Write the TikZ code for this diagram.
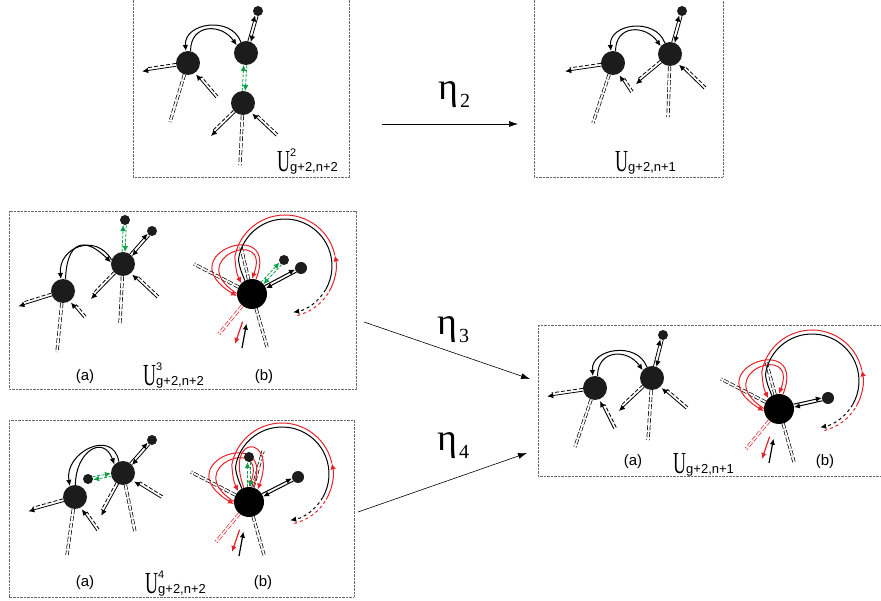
\documentclass[tikz,border=0pt]{standalone}
\usepackage{graphicx}
\usepackage{fontspec}
\setmainfont{Liberation Serif}
\newfontfamily\lblsans{Liberation Sans}
\usetikzlibrary{arrows.meta,calc}

\definecolor{vfill}{HTML}{1C1C1C}
\definecolor{loopred}{HTML}{E42229}
\definecolor{swapgreen}{HTML}{0E9F4A}
\definecolor{framegray}{HTML}{6A6A6A}

\tikzset{
  vtx/.style={circle, fill=vfill, inner sep=0pt, minimum size=24pt},
  svtx/.style={circle, fill=vfill, inner sep=0pt, minimum size=10pt},
  mvtx/.style={circle, fill=vfill, inner sep=0pt, minimum size=12pt},
  bigvtx/.style={circle, fill=black, inner sep=0pt, minimum size=30pt},
  boxframe/.style={draw=framegray, line width=0.9pt, dash pattern=on 0.9pt off 0.5pt},
  arrtip/.style={-{Latex[length=6pt,width=5.5pt]}},
  legtip/.style={line width=0.8pt, arrtip},
  legdash/.style={line width=0.8pt, dash pattern=on 4pt off 2pt},
  greendash/.style={swapgreen, dash pattern=on 3pt off 1.5pt},
  pleg/.style={double, double distance=1.8pt, line width=0.7pt, dash pattern=on 5pt off 2pt},
  arcline/.style={line width=1pt},
  mapArrow/.style={line width=0.6pt, -{Latex[length=9pt,width=6pt]}},
  lbl/.style={inner sep=0pt, font=\lblsans\fontsize{15}{15}\selectfont},
}

% half-edge leaving vertex #2 (radius #3) towards free end #4
\newcommand\outleg[4][]{%
  \draw[legtip,#1,shorten <=#3] ($(#2)!1.4pt!90:(#4)$) -- ($(#4)!1.4pt!-90:(#2)$);
  \draw[legdash,#1,shorten <=#3,shorten >=5pt] ($(#2)!1.4pt!-90:(#4)$) -- ($(#4)!1.4pt!90:(#2)$);}
% half-edge from free end #4 pointing into vertex #2 (gap #3)
\newcommand\inleg[4][]{%
  \draw[legtip,#1,shorten >=#3] ($(#4)!1.4pt!90:(#2)$) -- ($(#2)!1.4pt!-90:(#4)$);
  \draw[legdash,#1,shorten >=#3+5pt] ($(#4)!1.4pt!-90:(#2)$) -- ($(#2)!1.4pt!90:(#4)$);}
% two opposite arrows between vertices #2 (radius #3) and #4 (radius #5)
\newcommand\dpair[5][]{%
  \draw[legtip,#1,shorten <=#3,shorten >=#5] ($(#2)!1.5pt!90:(#4)$) -- ($(#4)!1.5pt!-90:(#2)$);
  \draw[legtip,#1,shorten <=#5,shorten >=#3] ($(#4)!1.5pt!90:(#2)$) -- ($(#2)!1.5pt!-90:(#4)$);}
% double arc over the top between two vertices
\newcommand\topArc[2]{%
  \draw[arcline,arrtip] (#2.115) to[out=110,in=95,looseness=1.3] (#1.100);
  \draw[arcline,arrtip] (#1.78) to[out=90,in=125,looseness=1.5] (#2.140);}
% labels
\newcommand\Ulab[2]{\scalebox{1}[1.7]{\fontsize{18}{18}\selectfont U}\rlap{\raisebox{15pt}{\lblsans\fontsize{11}{11}\selectfont #1}}\raisebox{0pt}{\lblsans\fontsize{13}{13}\selectfont #2}}
\newcommand\etalabel[1]{{\fontsize{38}{38}\selectfont η}\hspace{2pt}\raisebox{-8pt}{\fontsize{20}{20}\selectfont #1}}

% big vertex with self-loops and a long returning edge
\newcommand\loopvertex[5]{%
\begin{scope}[shift={(#2,-#3)}]
  \node[bigvtx] (#1V) at (0,0) {};
  \coordinate (#1ul) at (-58,30);
  \coordinate (#1up) at (#4,#5);
  \coordinate (#1dr) at (15,-53);
  \coordinate (#1dl) at (-33,-40);
  \coordinate (#1rd) at (-17,-50);
  \coordinate (#1bu) at (-10,-54);
  \coordinate (#1cc) at (33,28);
  \draw[pleg] (#1V) -- (#1ul);
  \draw[pleg] (#1V) -- (#1up);
  \draw[pleg] (#1V) -- (#1dr);
  \draw[pleg, draw=loopred] (#1V) -- (#1dl);
  \draw[loopred, line width=1.2pt, arrtip, shorten <=14pt] (#1V) -- (#1rd);
  \draw[line width=1.2pt, arrtip, shorten >=15pt] (#1bu) -- (#1V);
  \draw[loopred, arcline, arrtip] (#1V.75) .. controls +(26,65) and +(-70,42) .. (#1V.188);
  \draw[loopred, arcline, arrtip] (#1V.178) .. controls +(-55,35) and +(20,53) .. (#1V.90);
  \draw[arcline] (#1V.118) .. controls +(-4,10) and +(1,-8) .. ($(#1cc)+(172:47)$)
     arc[start angle=172, end angle=-30, radius=47] coordinate (#1bk);
  \draw[arcline, dashed, arrtip] (#1bk) arc[start angle=-30, end angle=-80, radius=47];
  \draw[loopred, arcline, dashed] ($(#1cc)+(-76:51)$) arc[start angle=-76, end angle=-30, radius=51] coordinate (#1ra);
  \draw[loopred, arcline, arrtip] (#1ra) arc[start angle=-30, end angle=12, radius=51] coordinate (#1rb);
  \draw[loopred, arcline, arrtip] (#1rb) arc[start angle=12, end angle=170, radius=51]
     .. controls +(1,-10) and +(-5,10) .. (#1V.135);
\end{scope}}

\begin{document}
\begin{tikzpicture}[x=1pt,y=1pt]
\useasboundingbox (0,0) rectangle (881,-601);

% ---------- frames ----------
\draw[boxframe] (133,6) rectangle (349,-177);
\draw[boxframe] (534,6) rectangle (723,-177);
\draw[boxframe] (9,-211) rectangle (356,-389);
\draw[boxframe] (9,-420) rectangle (354,-597);
\draw[boxframe] (538,-325) rectangle (890,-476);

% ---------- U^2_{g+2,n+2} ----------
\node[vtx] (p1A) at (188,-63) {};
\node[vtx] (p1B) at (246,-53) {};
\node[vtx] (p1C) at (243,-103) {};
\node[svtx] (p1D) at (258,-11) {};
\coordinate (p1a1) at (142,-70);
\coordinate (p1a2) at (170,-122);
\coordinate (p1a3) at (217,-97);
\coordinate (p1c1) at (210,-135);
\coordinate (p1c2) at (240,-165);
\coordinate (p1c3) at (277,-135);
\topArc{p1A}{p1B}
\dpair{p1B}{12pt}{p1D}{5pt}
\dpair[greendash]{p1B}{12pt}{p1C}{12pt}
\outleg{p1A}{12pt}{p1a1}
\draw[pleg] (p1A) -- (p1a2);
\inleg{p1A}{14pt}{p1a3}
\outleg{p1C}{12pt}{p1c1}
\draw[pleg] (p1C) -- (p1c2);
\inleg{p1C}{14pt}{p1c3}
\node[anchor=base west, inner sep=0pt] (lab1) at (277,-172) {\Ulab{2}{g+2,n+2}};

% ---------- U_{g+2,n+1} (top) ----------
\node[vtx] (p2A) at (613,-63) {};
\node[vtx] (p2B) at (670,-54) {};
\node[svtx] (p2D) at (682,-11) {};
\coordinate (p2a1) at (565,-70);
\coordinate (p2a2) at (593,-123);
\coordinate (p2a3) at (632,-92);
\coordinate (p2b1) at (635,-83);
\coordinate (p2b2) at (668,-117);
\coordinate (p2b3) at (705,-88);
\topArc{p2A}{p2B}
\dpair{p2B}{12pt}{p2D}{5pt}
\outleg{p2A}{12pt}{p2a1}
\draw[pleg] (p2A) -- (p2a2);
\inleg{p2A}{14pt}{p2a3}
\outleg{p2B}{12pt}{p2b1}
\draw[pleg] (p2B) -- (p2b2);
\inleg{p2B}{14pt}{p2b3}
\node[anchor=base west, inner sep=0pt] (lab2) at (615,-172) {\Ulab{}{g+2,n+1}};

% ---------- U^3_{g+2,n+2} (a) ----------
\node[vtx] (p3A) at (63,-291) {};
\node[vtx] (p3B) at (123,-264) {};
\node[svtx] (p3D) at (125,-220) {};
\node[svtx] (p3E) at (152,-231) {};
\coordinate (p3a1) at (18,-305);
\coordinate (p3a2) at (57,-352);
\coordinate (p3a3) at (85,-317);
\coordinate (p3b1) at (90,-298);
\coordinate (p3b2) at (120,-323);
\coordinate (p3b3) at (158,-297);
\draw[arcline,arrtip] (p3B.160) to[out=120,in=95,looseness=1.5] (p3A.100);
\draw[arcline,arrtip] (p3A.78) to[out=88,in=135,looseness=2] (p3B.172);
\dpair[greendash]{p3B}{12pt}{p3D}{5pt}
\dpair{p3B}{12pt}{p3E}{5pt}
\outleg{p3A}{12pt}{p3a1}
\draw[pleg] (p3A) -- (p3a2);
\inleg{p3A}{14pt}{p3a3}
\outleg{p3B}{12pt}{p3b1}
\draw[pleg] (p3B) -- (p3b2);
\inleg{p3B}{14pt}{p3b3}
\node[lbl] (lab3a) at (85,-377) {(a)};
\node[anchor=base west, inner sep=0pt] (lab3) at (143,-386) {\Ulab{3}{g+2,n+2}};

% ---------- U^3_{g+2,n+2} (b) ----------
\loopvertex{q3}{252}{294}{-11}{47}
\node[svtx] (q3D) at (284,-260) {};
\node[mvtx] (q3E) at (301,-268) {};
\dpair[greendash]{q3V}{15pt}{q3D}{5pt}
\dpair[arcline]{q3V}{15pt}{q3E}{6pt}
\node[lbl] (lab3b) at (264,-377) {(b)};

% ---------- U^4_{g+2,n+2} (a) ----------
\node[vtx] (p4A) at (75,-497) {};
\node[vtx] (p4B) at (123,-473) {};
\node[svtx] (p4D) at (88,-479) {};
\node[svtx] (p4E) at (152,-440) {};
\coordinate (p4a1) at (28,-510);
\coordinate (p4a2) at (67,-555);
\coordinate (p4a3) at (98,-530);
\coordinate (p4b1) at (100,-515);
\coordinate (p4b2) at (135,-532);
\coordinate (p4b3) at (162,-497);
\draw[arcline,arrtip] (p4B.110) to[out=100,in=100,looseness=1.6] (p4A.115);
\draw[arcline,arrtip] (p4A.88) to[out=90,in=110,looseness=1.9] (p4B.135);
\dpair[greendash]{p4B}{12pt}{p4D}{5pt}
\dpair{p4B}{12pt}{p4E}{5pt}
\outleg{p4A}{12pt}{p4a1}
\draw[pleg] (p4A) -- (p4a2);
\inleg{p4A}{14pt}{p4a3}
\outleg{p4B}{12pt}{p4b1}
\draw[pleg] (p4B) -- (p4b2);
\inleg{p4B}{14pt}{p4b3}
\node[lbl] (lab4a) at (85,-583) {(a)};
\node[anchor=base west, inner sep=0pt] (lab4) at (145,-593) {\Ulab{4}{g+2,n+2}};

% ---------- U^4_{g+2,n+2} (b) ----------
\loopvertex{q4}{249}{502}{14}{51}
\node[svtx] (q4D) at (249,-457) {};
\node[mvtx] (q4E) at (298,-477) {};
\draw[loopred, arcline, arrtip] (q4V.110) .. controls +(-20,55) and +(20,55) .. (q4V.55);
\dpair[greendash]{q4V}{15pt}{q4D}{5pt}
\dpair[arcline]{q4V}{15pt}{q4E}{6pt}
\node[lbl] (lab4b) at (263,-583) {(b)};

% ---------- U_{g+2,n+1} (a) ----------
\node[vtx] (p5A) at (595,-388) {};
\node[vtx] (p5B) at (652,-378) {};
\node[svtx] (p5D) at (663,-335) {};
\coordinate (p5a1) at (547,-395);
\coordinate (p5a2) at (575,-447);
\coordinate (p5a3) at (615,-428);
\coordinate (p5b1) at (618,-410);
\coordinate (p5b2) at (648,-440);
\coordinate (p5b3) at (687,-408);
\topArc{p5A}{p5B}
\dpair{p5B}{12pt}{p5D}{5pt}
\outleg{p5A}{12pt}{p5a1}
\draw[pleg] (p5A) -- (p5a2);
\inleg{p5A}{14pt}{p5a3}
\outleg{p5B}{12pt}{p5b1}
\draw[pleg] (p5B) -- (p5b2);
\inleg{p5B}{14pt}{p5b3}
\node[lbl] (lab5a) at (633,-462) {(a)};
\node[anchor=base west, inner sep=0pt] (lab5) at (673,-473) {\Ulab{}{g+2,n+1}};

% ---------- U_{g+2,n+1} (b) ----------
\loopvertex{q5}{779}{409}{-13}{48}
\node[mvtx] (q5E) at (828,-398) {};
\dpair[arcline]{q5V}{15pt}{q5E}{6pt}
\node[lbl] (lab5b) at (825,-462) {(b)};

% ---------- maps ----------
\coordinate (m2s) at (382,-124);
\coordinate (m2e) at (518,-124);
\coordinate (m3s) at (364,-322);
\coordinate (m3e) at (530,-379);
\coordinate (m4s) at (358,-512);
\coordinate (m4e) at (527,-453);
\draw[mapArrow] (m2s) -- (m2e);
\draw[mapArrow] (m3s) -- (m3e);
\draw[mapArrow] (m4s) -- (m4e);
\node[anchor=base west, inner sep=0pt] (eta2) at (438,-100) {\etalabel{2}};
\node[anchor=base west, inner sep=0pt] (eta3) at (437,-335) {\etalabel{3}};
\node[anchor=base west, inner sep=0pt] (eta4) at (437,-450) {\etalabel{4}};
\end{tikzpicture}
\end{document}
